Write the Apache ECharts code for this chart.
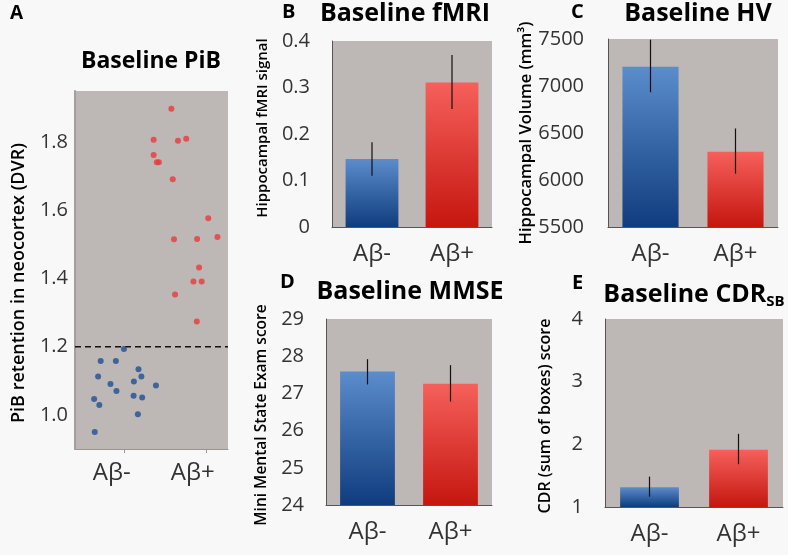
<!DOCTYPE html>
<html>
<head>
<meta charset="utf-8">
<script src="https://cdn.jsdelivr.net/npm/echarts@6/dist/echarts.min.js"></script>
<style>
html,body{margin:0;padding:0;background:#f9f8f8;}
#chart{width:788px;height:555px;}
</style>
</head>
<body>
<div id="chart"></div>
<script>
// ---------- DATA ----------
const groups = ['Aβ-', 'Aβ+'];

// Panel A: PiB scatter (jittered x position, DVR value)
const pibNegX = [0.320,0.168,0.267,0.415,0.151,0.434,0.385,0.232,0.529,0.271,0.383,0.439,0.125,0.159,0.411,0.129];
const pibNegY = [1.193,1.158,1.158,1.134,1.113,1.113,1.098,1.091,1.086,1.070,1.056,1.051,1.047,1.029,1.002,0.950];
const pibPosX = [0.630,0.514,0.673,0.727,0.514,0.535,0.548,0.639,0.871,0.647,0.798,0.931,0.811,0.774,0.828,0.654,0.796];
const pibPosY = [1.898,1.807,1.804,1.810,1.762,1.741,1.741,1.691,1.577,1.515,1.516,1.522,1.432,1.391,1.391,1.353,1.274];
const pibCutoff = 1.2;
const pibCutoffSpan = [0, 1];
const pibTicks = [1.0, 1.2, 1.4, 1.6, 1.8];

// Panel B: fMRI
const fmriMean = [0.146, 0.311];
const fmriLow  = [0.110, 0.254];
const fmriHigh = [0.182, 0.370];

// Panel C: hippocampal volume
const hvMean = [7205, 6300];
const hvLow  = [6933, 6067];
const hvHigh = [7493, 6548];

// Panel D: MMSE
const mmseMean = [27.59, 27.26];
const mmseLow  = [27.24, 26.78];
const mmseHigh = [27.92, 27.76];

// Panel E: CDR-SB
const cdrMean = [1.315, 1.912];
const cdrLow  = [1.165, 1.683];
const cdrHigh = [1.485, 2.168];

// ---------- STYLE ----------
const FONT = '"Open Sans", "Liberation Sans", sans-serif';
const PLOT_BG = '#bdb7b5';
const blueGrad = new echarts.graphic.LinearGradient(0,0,0,1,[{offset:0,color:'#5b8ccb'},{offset:1,color:'#0f3c7e'}]);
const redGrad  = new echarts.graphic.LinearGradient(0,0,0,1,[{offset:0,color:'#f6605b'},{offset:1,color:'#c5160f'}]);

const grids = [
  {left:75,  top:91,  width:153, height:358},
  {left:332, top:41,  width:160, height:186},
  {left:608, top:39,  width:170, height:188},
  {left:326, top:319, width:166, height:186},
  {left:605, top:319, width:178, height:188}
].map(g => Object.assign({show:true, backgroundColor:PLOT_BG, borderWidth:0, containLabel:false}, g));

function catAxis(gi){
  return {
    type:'category', gridIndex:gi, data:groups,
    axisLine:{show:true, lineStyle:{color:'#555', width:1}},
    axisTick:{show:false},
    axisLabel:{fontFamily:FONT, fontSize:24, color:'#333', margin:15}
  };
}
function valAxis(gi, min, max, interval, name, gap, margin, nameSize, namePad){
  return {
    type:'value', gridIndex:gi, min:min, max:max, interval:interval,
    splitLine:{show:false},
    axisLine:{show:true, lineStyle:{color:'#555', width:1}},
    axisTick:{show:false},
    axisLabel:{fontFamily:FONT, fontSize:20, color:'#333', margin:margin, padding:[5,0,0,0],
      formatter: v => String(Math.round(v*100)/100)},
    name:name, nameLocation:'middle', nameGap:gap,
    nameTextStyle:{fontFamily:FONT, fontSize:nameSize, color:'#000', fontWeight:600, padding:namePad}
  };
}

function barSeries(gi, means){
  return {
    type:'bar', xAxisIndex:gi, yAxisIndex:gi, barWidth: '66%',
    data: means.map((v,i)=>({value:v, itemStyle:{color: i===0?blueGrad:redGrad}})),
    silent:true
  };
}
function errSeries(gi, lows, highs){
  return {
    type:'custom', xAxisIndex:gi, yAxisIndex:gi, silent:true, z:5,
    data: lows.map((l,i)=>[i, l, highs[i]]),
    renderItem: function(params, api){
      const p1 = api.coord([api.value(0), api.value(1)]);
      const p2 = api.coord([api.value(0), api.value(2)]);
      return {type:'line', shape:{x1:p1[0], y1:p1[1], x2:p2[0], y2:p2[1]}, style:{stroke:'#111', lineWidth:1.2}};
    }
  };
}

const titleStyle = {fontFamily:FONT, fontWeight:'bold', color:'#000'};
const titles = [
  {text:'A', left:10, top:4, textStyle:Object.assign({fontSize:19}, titleStyle)},
  {text:'Baseline PiB', left:151, top:50, textAlign:'center', textStyle:Object.assign({fontSize:23}, titleStyle)},
  {text:'B', left:282, top:2, textStyle:Object.assign({fontSize:20}, titleStyle)},
  {text:'Baseline fMRI', left:405, top:1, textAlign:'center', textStyle:Object.assign({fontSize:25}, titleStyle)},
  {text:'C', left:571, top:2, textStyle:Object.assign({fontSize:20}, titleStyle)},
  {text:'Baseline HV', left:698, top:1, textAlign:'center', textStyle:Object.assign({fontSize:25}, titleStyle)},
  {text:'D', left:280, top:272, textStyle:Object.assign({fontSize:20}, titleStyle)},
  {text:'Baseline MMSE', left:410, top:279, textAlign:'center', textStyle:Object.assign({fontSize:25}, titleStyle)},
  {text:'E', left:572, top:273, textStyle:Object.assign({fontSize:20}, titleStyle)},
  {text:'{a|Baseline CDR}{s|SB}', left:694, top:279, textAlign:'center', textStyle:{
     rich:{
       a:{fontFamily:FONT, fontWeight:'bold', fontSize:25, color:'#000', lineHeight:32},
       s:{fontFamily:FONT, fontWeight:'bold', fontSize:15, color:'#000', lineHeight:32, padding:[14,0,0,0]}
     }}}
].map(t => Object.assign({padding:0}, t));

const option = {
  backgroundColor:'#f9f8f8',
  animation:false,
  title: titles,
  grid: grids,
  xAxis: [
    {type:'value', gridIndex:0, min:0, max:1,
     splitLine:{show:false},
     axisLine:{show:true, lineStyle:{color:'#9a9492', width:1}},
     axisTick:{show:true, customValues:[0.32, 0.86], length:4, lineStyle:{color:'#9a9492'}},
     axisLabel:{fontFamily:FONT, fontSize:24, color:'#333', margin:12,
       customValues:[0.24, 0.77],
       formatter: v => (v < 0.5 ? groups[0] : groups[1])}},
    catAxis(1), catAxis(2), catAxis(3), catAxis(4)
  ],
  yAxis: [
    {type:'value', gridIndex:0, min:0.9, max:1.95,
     splitLine:{show:false},
     axisLine:{show:true, lineStyle:{color:'#a49e9c', width:2}},
     axisTick:{show:false},
     axisLabel:{fontFamily:FONT, fontSize:20, color:'#333', margin:7, padding:[5,0,0,0],
       customValues:pibTicks, formatter: v => v.toFixed(1)},
     name:'PiB retention in neocortex (DVR)', nameLocation:'middle', nameGap:47,
     nameTextStyle:{fontFamily:FONT, fontSize:18, color:'#000', fontWeight:600, padding:[0,26,0,0]}},
    valAxis(1, 0, 0.4, 0.1, 'Hippocampal fMRI signal', 62, 22, 15, [0,0,0,12]),
    valAxis(2, 5500, 7500, 500, 'Hippocampal Volume (mm³)', 73, 24, 16.5, [0,0,0,0]),
    valAxis(3, 24, 29, 1, 'Mini Mental State Exam score', 56, 22, 15.5, [0,6,0,0]),
    valAxis(4, 1, 4, 1, 'CDR (sum of boxes) score', 52, 22, 16, [0,6,0,0])
  ],
  series: [
    {type:'scatter', xAxisIndex:0, yAxisIndex:0, symbolSize:6, silent:true,
     itemStyle:{color:'#1f4f96'},
     data: pibNegX.map((x,i)=>[x, pibNegY[i]])},
    {type:'scatter', xAxisIndex:0, yAxisIndex:0, symbolSize:6, silent:true,
     itemStyle:{color:'#e83a3a'},
     data: pibPosX.map((x,i)=>[x, pibPosY[i]])},
    {type:'line', xAxisIndex:0, yAxisIndex:0, silent:true, clip:false, symbol:'none', z:1,
     lineStyle:{type:[6,4], color:'#111', width:1.5},
     data: pibCutoffSpan.map(x => [x, pibCutoff])},
    barSeries(1, fmriMean), errSeries(1, fmriLow, fmriHigh),
    barSeries(2, hvMean), errSeries(2, hvLow, hvHigh),
    barSeries(3, mmseMean), errSeries(3, mmseLow, mmseHigh),
    barSeries(4, cdrMean), errSeries(4, cdrLow, cdrHigh)
  ]
};

const chart = echarts.init(document.getElementById('chart'), null, {renderer:'canvas'});
chart.setOption(option);
</script>
</body>
</html>
